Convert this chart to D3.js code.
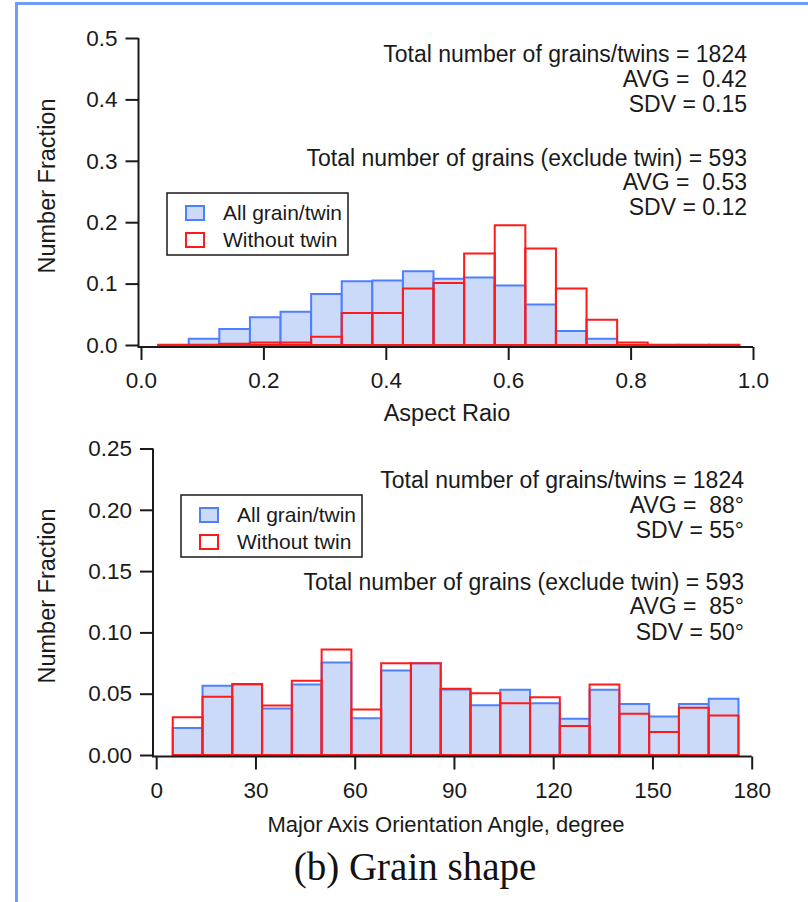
<!DOCTYPE html>
<html>
<head>
<meta charset="utf-8">
<script src="https://cdn.jsdelivr.net/npm/d3@7"></script>
<style>
  body { margin: 0; background: #fff; }
  svg { display: block; font-family: "Liberation Sans", Arial, sans-serif; }
  text { white-space: pre; }
</style>
</head>
<body>
<script>
// top panel: aspect ratio histogram (bin width 0.05)
var arBinStart = 0.028, arBinWidth = 0.05;
var arAll    = [null, 0.010, 0.026, 0.045, 0.054, 0.083, 0.104, 0.105, 0.120, 0.108, 0.110, 0.097, 0.066, 0.023, 0.010];
var arNoTwin = [0.0005, 0.0005, 0.002, 0.004, 0.004, 0.0135, 0.052, 0.052, 0.092, 0.101, 0.149, 0.195, 0.157, 0.092, 0.041, 0.004, 0.0005, 0.0005, 0.0005];
var arTicksX = [0, 0.2, 0.4, 0.6, 0.8, 1.0];
var arTicksY = [0, 0.1, 0.2, 0.3, 0.4, 0.5];
var arNotes = ['Total number of grains/twins = 1824', 'AVG =  0.42', 'SDV = 0.15',
               'Total number of grains (exclude twin) = 593', 'AVG =  0.53', 'SDV = 0.12'];

// bottom panel: orientation angle histogram (bin width 9 deg)
var angBinStart = 5, angBinWidth = 9;
var angAll    = [0.022, 0.0565, 0.0575, 0.038, 0.0575, 0.0755, 0.030, 0.069, 0.0748, 0.0535, 0.0406, 0.0532, 0.0423, 0.0296, 0.0532, 0.0415, 0.0315, 0.0415, 0.0459];
var angNoTwin = [0.0307, 0.0475, 0.058, 0.0404, 0.0605, 0.086, 0.0371, 0.0748, 0.0748, 0.054, 0.0504, 0.0423, 0.0472, 0.0237, 0.0575, 0.0337, 0.0188, 0.0386, 0.0323];
var angTicksX = [0, 30, 60, 90, 120, 150, 180];
var angTicksY = [0, 0.05, 0.10, 0.15, 0.20, 0.25];
var angNotes = ['Total number of grains/twins = 1824', 'AVG =  88°', 'SDV = 55°',
                'Total number of grains (exclude twin) = 593', 'AVG =  85°', 'SDV = 50°'];

var legendNames = ['All grain/twin', 'Without twin'];

var blueLine = '#4d7fff', blueFill = '#ccdafa', redLine = '#ff1a1a', ink = '#1a1a1a';

var svg = d3.select('body').append('svg').attr('width', 808).attr('height', 902);

// page frame (only left/top edges show)
svg.append('rect').attr('x', 16.5).attr('y', 3.5).attr('width', 900).attr('height', 1000)
   .attr('fill', 'none').attr('stroke', '#6e9cf6').attr('stroke-width', 3);

function panel(o) {
	var x = d3.scaleLinear().domain(o.xDomain).range(o.xRange);
	var y = d3.scaleLinear().domain(o.yDomain).range(o.yRange);
	var g = svg.append('g');

	function barPath(i, v) {
		var x0 = x(o.binStart + i * o.binWidth), x1 = x(o.binStart + (i + 1) * o.binWidth);
		return 'M' + x0 + ',' + y(0) + 'V' + y(v) + 'H' + x1 + 'V' + y(0) + 'Z';
	}

	g.selectAll('path.all').data(o.all.map((v, i) => [i, v]).filter(d => d[1] != null))
		.enter().append('path').attr('class', 'all')
		.attr('d', d => barPath(d[0], d[1]))
		.attr('fill', blueFill).attr('stroke', blueLine).attr('stroke-width', 2);
	g.selectAll('path.notwin').data(o.noTwin.map((v, i) => [i, v]))
		.enter().append('path').attr('class', 'notwin')
		.attr('d', d => barPath(d[0], d[1]))
		.attr('fill', 'none').attr('stroke', redLine).attr('stroke-width', 2);

	// axes
	var yAx = g.append('g').attr('transform', 'translate(' + o.axisX + ',0)')
		.call(d3.axisLeft(y).tickValues(o.yTicks).tickFormat(d3.format(o.yFmt)).tickSize(13).tickPadding(8));
	var xAx = g.append('g').attr('transform', 'translate(0,' + o.axisY + ')')
		.call(d3.axisBottom(x).tickValues(o.xTicks).tickFormat(d3.format(o.xFmt)).tickSize(13).tickPadding(o.xPad));
	[yAx, xAx].forEach(function(a) {
		a.select('.domain').remove();
		a.selectAll('line').attr('stroke', ink).attr('stroke-width', 2);
		a.selectAll('text').attr('fill', ink).style('font-size', '22.5px').style('font-family', '"Liberation Sans", Arial, sans-serif');
	});
	g.append('path').attr('d', 'M' + o.axisX + ',' + o.yRange[1] + 'V' + o.axisY + 'H' + o.xRange[1])
		.attr('fill', 'none').attr('stroke', ink).attr('stroke-width', 2);

	// axis titles
	g.append('text').attr('transform', 'translate(' + o.yTitle[0] + ',' + o.yTitle[1] + ') rotate(-90)')
		.attr('text-anchor', 'middle').attr('dy', '0.35em').style('font-size', '23.5px').attr('fill', ink).text('Number Fraction');
	g.append('text').attr('x', o.xTitle[0]).attr('y', o.xTitle[1])
		.attr('text-anchor', 'middle').attr('dy', '0.35em').style('font-size', o.xTitleSize).attr('fill', ink).text(o.xLabel);

	// notes
	g.selectAll('text.note').data(o.notes).enter().append('text').attr('class', 'note')
		.attr('x', o.noteX).attr('y', (d, i) => o.noteY[i]).attr('dy', '0.35em')
		.attr('text-anchor', 'end').style('font-size', '23px').attr('fill', ink).text(d => d);

	// legend
	var L = o.legend;
	g.append('rect').attr('x', L[0]).attr('y', L[1]).attr('width', 181).attr('height', 62)
		.attr('fill', '#fff').attr('stroke', ink).attr('stroke-width', 1.5);
	legendNames.forEach(function(name, i) {
		var cy = L[1] + 20 + i * 27;
		g.append('rect').attr('x', L[0] + 19).attr('y', cy - 7).attr('width', 18).attr('height', 14)
			.attr('fill', i == 0 ? blueFill : '#fff').attr('stroke', i == 0 ? blueLine : redLine).attr('stroke-width', 2);
		g.append('text').attr('x', L[0] + 56).attr('y', cy).attr('dy', '0.35em')
			.style('font-size', '21px').attr('fill', ink).text(name);
	});
}

panel({
	binStart: arBinStart, binWidth: arBinWidth, all: arAll, noTwin: arNoTwin,
	xDomain: [0, 1], xRange: [141, 753], yDomain: [0, 0.5], yRange: [345, 38],
	axisX: 138.5, axisY: 347, xTicks: arTicksX, yTicks: arTicksY, xFmt: '.1f', yFmt: '.1f', xPad: 12,
	yTitle: [47, 186], xTitle: [447, 413], xLabel: 'Aspect Raio', xTitleSize: '23.5px',
	notes: arNotes, noteX: 747, noteY: [54, 79, 104, 158, 182, 207],
	legend: [167, 193]
});

panel({
	binStart: angBinStart, binWidth: angBinWidth, all: angAll, noTwin: angNoTwin,
	xDomain: [0, 180], xRange: [156.2, 751.7], yDomain: [0, 0.25], yRange: [755, 448.5],
	axisX: 153, axisY: 756.5, xTicks: angTicksX, yTicks: angTicksY, xFmt: 'd', yFmt: '.2f', xPad: 13,
	yTitle: [47, 596], xTitle: [446, 824], xLabel: 'Major Axis Orientation Angle, degree', xTitleSize: '22px',
	notes: angNotes, noteX: 744, noteY: [480, 505, 530, 582, 606, 632],
	legend: [181, 495]
});

svg.append('text').attr('x', 415).attr('y', 866).attr('dy', '0.35em').attr('text-anchor', 'middle')
	.style('font-family', '"Liberation Serif", "Times New Roman", serif').style('font-size', '39px')
	.attr('fill', '#111').text('(b) Grain shape');
</script>
</body>
</html>
